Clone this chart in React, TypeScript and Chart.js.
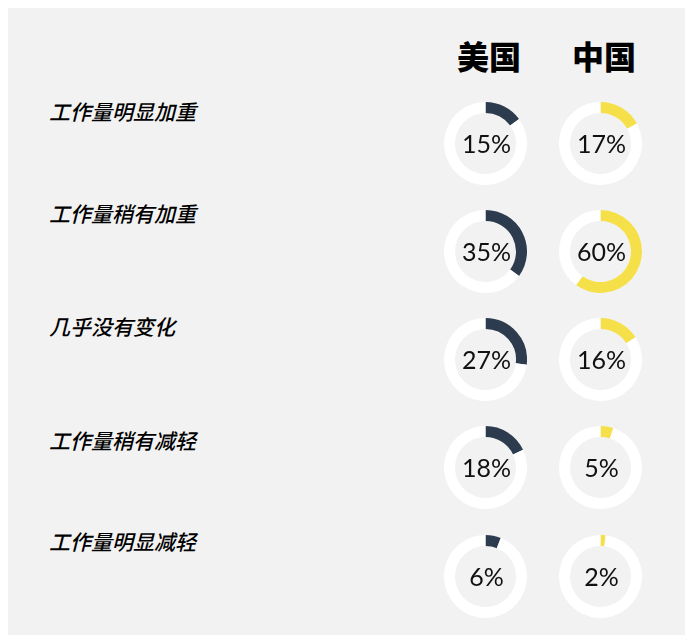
import React, { useEffect, useRef } from "react";
import { Chart, registerables } from "chart.js";

Chart.register(...registerables);

const categories = ["工作量明显加重", "工作量稍有加重", "几乎没有变化", "工作量稍有减轻", "工作量明显减轻"];
const seriesNames = ["美国", "中国"];
const usValues = [15, 35, 27, 18, 6];
const cnValues = [17, 60, 16, 5, 2];
const seriesColors = ["#2d3b4e", "#f6e04a"];

const labelCenterY = [103, 204.5, 318, 432, 533];
const donutCenterY = [135.5, 243.5, 351.5, 459.5, 568];
const colCenterX = [477.5, 592.5];
const SIZE = 83;

const centerTextPlugin = {
  id: "centerText",
  afterDraw(chart: any) {
    const arc = chart.getDatasetMeta(0).data[0];
    if (!arc) return;
    const v = chart.data.datasets[0].data[0];
    const ctx = chart.ctx;
    ctx.save();
    ctx.font = '400 25px Lato, "Noto Sans", sans-serif';
    ctx.fillStyle = "#111";
    ctx.textAlign = "center";
    ctx.textBaseline = "middle";
    ctx.fillText(v + "%", arc.x + 1, arc.y + 1);
    ctx.restore();
  },
};

function Donut({ value, color, cx, cy }: { value: number; color: string; cx: number; cy: number }) {
  const ref = useRef<HTMLCanvasElement>(null);
  useEffect(() => {
    if (!ref.current) return;
    const chart = new Chart(ref.current, {
      type: "doughnut",
      data: {
        labels: ["value", "rest"],
        datasets: [
          {
            data: [value, 100 - value],
            backgroundColor: [color, "#ffffff"],
            borderWidth: 0,
          },
        ],
      },
      options: {
        animation: false,
        responsive: false,
        devicePixelRatio: 1,
        cutout: "73.5%",
        radius: "100%",
        layout: { padding: 0 },
        events: [],
        plugins: { legend: { display: false }, tooltip: { enabled: false } },
      },
      plugins: [centerTextPlugin],
    });
    return () => chart.destroy();
  }, [value, color]);
  return (
    <canvas
      ref={ref}
      width={SIZE}
      height={SIZE}
      style={{ position: "absolute", left: cx - SIZE / 2, top: cy - SIZE / 2, width: SIZE, height: SIZE }}
    />
  );
}

export default function App() {
  const series = [usValues, cnValues];
  return (
    <div
      style={{
        position: "relative",
        background: "#f2f2f2",
        height: 627,
        overflow: "hidden",
      }}
    >
      {seriesNames.map((n, i) => (
        <div
          key={n}
          style={{
            position: "absolute",
            left: colCenterX[i] + 3.5 - 60,
            width: 120,
            top: 47 - 22,
            height: 44,
            lineHeight: "44px",
            textAlign: "center",
            fontFamily: '"Noto Sans CJK SC", sans-serif',
            fontWeight: 900,
            fontSize: 32,
            color: "#000",
          }}
        >
          {n}
        </div>
      ))}
      {categories.map((c, i) => (
        <div
          key={c}
          style={{
            position: "absolute",
            left: 41,
            top: labelCenterY[i] - 15,
            height: 30,
            lineHeight: "30px",
            fontFamily: '"Noto Sans CJK SC", sans-serif',
            fontStyle: "italic",
            fontWeight: 500,
            fontSize: 21,
            color: "#000",
            whiteSpace: "nowrap",
          }}
        >
          {c}
        </div>
      ))}
      {categories.map((c, i) =>
        series.map((vals, j) => (
          <Donut key={c + j} value={vals[i]} color={seriesColors[j]} cx={colCenterX[j]} cy={donutCenterY[i]} />
        ))
      )}
    </div>
  );
}
